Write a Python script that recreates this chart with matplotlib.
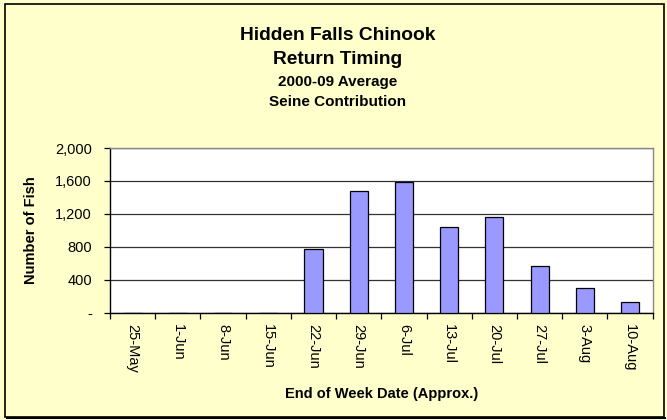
import matplotlib
matplotlib.use("Agg")
import matplotlib.pyplot as plt
from matplotlib.patches import Rectangle
from matplotlib.ticker import FuncFormatter
import numpy as np

categories = ["25-May", "1-Jun", "8-Jun", "15-Jun", "22-Jun", "29-Jun", "6-Jul",
              "13-Jul", "20-Jul", "27-Jul", "3-Aug", "10-Aug"]
values = [0, 0, 0, 0, 774, 1482, 1592, 1045, 1159, 571, 296, 130]
yticks = [0, 400, 800, 1200, 1600, 2000]
title_lines = ["Hidden Falls Chinook", "Return Timing", "2000-09 Average", "Seine Contribution"]

plt.rcParams['font.family'] = ['Liberation Sans', 'DejaVu Sans']

W, H = 667, 420
fig = plt.figure(figsize=(W / 100, H / 100), dpi=100)
fig.patch.set_facecolor("#FFFFCC")

# outer frame
fig.patches.append(Rectangle((5 / W, 3 / H), 659 / W, 413 / H, transform=fig.transFigure,
                             fill=False, edgecolor="black", linewidth=1.2, zorder=0))
fig.patches.append(Rectangle((6 / W, 1 / H), 660 / W, 2.2 / H, transform=fig.transFigure,
                             facecolor="black", edgecolor="none", zorder=0))

ax = fig.add_axes([110 / W, 1 - 312.7 / H, (652.7 - 110) / W, (312.7 - 148) / H])
ax.set_facecolor("white")

x = np.arange(len(categories))
ax.bar(x, values, width=0.4, color="#9999FF", edgecolor="black", linewidth=0.9, zorder=3)

ax.set_xlim(-0.5, len(categories) - 0.5)
ax.set_ylim(0, 2000)
ax.set_yticks(yticks)
ax.yaxis.set_major_formatter(FuncFormatter(lambda v, p: "-" if v == 0 else f"{int(v):,}"))
ax.grid(axis="y", color="#333333", linewidth=0.9, zorder=1)

# category labels at centers, tick marks at boundaries
ax.set_xticks(x)
ax.set_xticklabels(categories, rotation=-90, fontsize=10.5)
ax.tick_params(axis="x", which="major", length=0, pad=8)
ax.set_xticks(np.arange(-0.5, len(categories)), minor=True)
ax.tick_params(axis="x", which="minor", length=4, width=0.9, color="black", direction="out")
ax.tick_params(axis="y", length=4, width=0.9, direction="out", labelsize=10.5, color="black", pad=9)

for s in ["top", "right"]:
    ax.spines[s].set_color("#888888")
    ax.spines[s].set_linewidth(1.0)
for s in ["left", "bottom"]:
    ax.spines[s].set_color("black")
    ax.spines[s].set_linewidth(1.0)

ax.set_ylabel("Number of Fish", fontsize=10.5, fontweight="bold", labelpad=12)
ax.set_xlabel("End of Week Date (Approx.)", fontsize=10.5, fontweight="bold", labelpad=10)

ys = [35, 59, 82, 102]
sizes = [13.8, 13.8, 11, 11]
for t, yy, sz in zip(title_lines, ys, sizes):
    fig.text(338 / W, 1 - yy / H, t, ha="center", va="center",
             fontsize=sz, fontweight="bold")

fig.savefig("out.png", dpi=100, facecolor=fig.get_facecolor())
